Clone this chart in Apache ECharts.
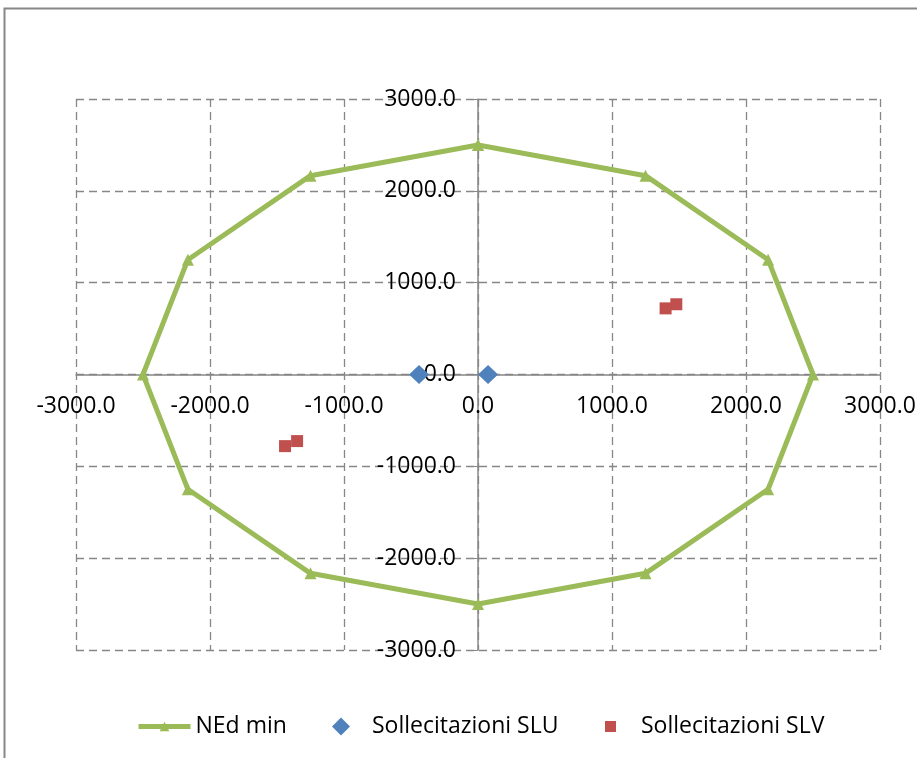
<!DOCTYPE html>
<html>
<head>
<meta charset="utf-8">
<script src="https://cdn.jsdelivr.net/npm/echarts@6/dist/echarts.min.js"></script>
<style>
  html, body { margin: 0; padding: 0; background: #fff; }
  #chart { width: 917px; height: 758px; }
</style>
</head>
<body>
<div id="chart"></div>
<script>
// dominio NEd min (poligono chiuso)
const nedX = [0, 1250, 2165, 2500, 2165, 1250, 0, -1250, -2165, -2500, -2165, -1250, 0];
const nedY = [2500, 2165, 1250, 0, -1250, -2165, -2500, -2165, -1250, 0, 1250, 2165, 2500];

// sollecitazioni
const sluX = [-440, 75];
const sluY = [0, 0];
const slvX = [1400, 1480, -1440, -1350];
const slvY = [720, 765, -780, -725];

const axisMin = -3000;
const axisMax = 3000;
const axisStep = 1000;

const seriesNames = ['NEd min', 'Sollecitazioni SLU', 'Sollecitazioni SLV'];

const pairs = (xs, ys) => xs.map((x, i) => [x, ys[i]]);

const font = '"Open Sans", "Liberation Sans", sans-serif';
const grey = '#878787';

// area del grafico (px)
const gridLeft = 76, gridRight = 37, gridTop = 99, gridBottom = 108;
const plotW = 917 - gridLeft - gridRight;
const plotH = 758 - gridTop - gridBottom;

const chart = echarts.init(document.getElementById('chart'));

// gli assi passano per lo zero: sposto asse + etichette con offset
const valueAxis = (position, offset, labelMargin) => ({
  type: 'value',
  position: position,
  offset: offset,
  min: axisMin,
  max: axisMax,
  interval: axisStep,
  axisLine: { onZero: false, lineStyle: { color: grey, width: 1.5 } },
  axisTick: { show: true, length: 5, lineStyle: { color: grey } },
  axisLabel: {
    margin: labelMargin,
    color: '#000',
    fontSize: 23,
    fontFamily: font,
    formatter: (v) => v.toFixed(1),
  },
  splitLine: {
    show: true,
    lineStyle: { color: grey, width: 1.3, type: [8, 5] },
  },
});

const legendBase = {
  top: 710,
  itemGap: 0,
  textStyle: { color: '#000', fontSize: 23, fontFamily: font },
};

chart.setOption({
  animation: false,
  graphic: [{
    type: 'rect',
    shape: { x: 4.5, y: 8.5, width: 1000, height: 1000 },
    style: { fill: 'none', stroke: grey, lineWidth: 2 },
    silent: true,
  }],
  grid: {
    left: gridLeft, right: gridRight, top: gridTop, bottom: gridBottom,
    containLabel: false,
    outerBoundsMode: 'none',
  },
  xAxis: valueAxis('bottom', -plotH / 2, 20),
  yAxis: valueAxis('left', -plotW / 2, 22),
  legend: [
    Object.assign({}, legendBase, {
      left: 131, itemWidth: 52, itemHeight: 12, data: [seriesNames[0]],
      lineStyle: { width: 5 },
    }),
    Object.assign({}, legendBase, {
      left: 327, itemWidth: 18, itemHeight: 18, data: [seriesNames[1]],
      textStyle: Object.assign({}, legendBase.textStyle, { padding: [0, 0, 0, 17] }),
    }),
    Object.assign({}, legendBase, {
      left: 600, itemWidth: 11, itemHeight: 11, data: [seriesNames[2]],
      textStyle: Object.assign({}, legendBase.textStyle, { padding: [0, 0, 0, 20] }),
    }),
  ],
  series: [
    {
      name: seriesNames[0],
      type: 'line',
      data: pairs(nedX, nedY),
      symbol: 'triangle',
      symbolSize: 12,
      lineStyle: { color: '#9BBB59', width: 5 },
      itemStyle: { color: '#9BBB59', opacity: 1 },
      z: 3,
    },
    {
      name: seriesNames[1],
      type: 'scatter',
      data: pairs(sluX, sluY),
      symbol: 'diamond',
      symbolSize: [20, 19],
      itemStyle: { color: '#4F81BD', opacity: 1 },
      z: 4,
    },
    {
      name: seriesNames[2],
      type: 'scatter',
      data: pairs(slvX, slvY),
      symbol: 'rect',
      symbolSize: 12,
      itemStyle: { color: '#C0504D', opacity: 1 },
      z: 4,
    },
  ],
});
</script>
</body>
</html>
